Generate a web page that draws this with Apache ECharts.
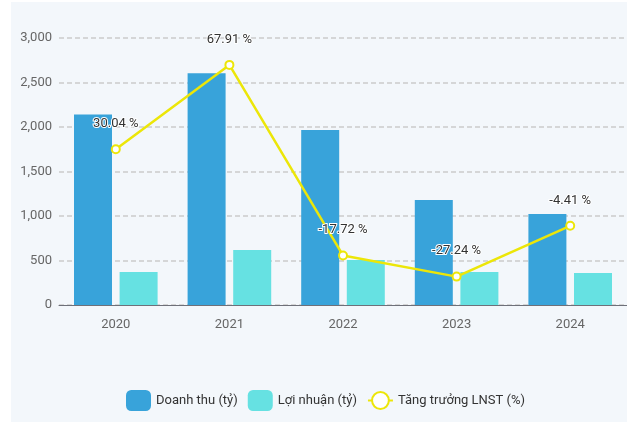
<!DOCTYPE html>
<html>
<head>
<meta charset="utf-8">
<script src="https://cdn.jsdelivr.net/npm/echarts@6/dist/echarts.min.js"></script>
<style>
  html, body { margin: 0; padding: 0; background: #fff; }
  #chart { position: absolute; left: 11px; top: 2px; width: 616px; height: 420px; }
</style>
</head>
<body>
<div id="chart"></div>
<script>
// số liệu
var years = ['2020', '2021', '2022', '2023', '2024'];
var doanhThu = [2140, 2605, 1965, 1180, 1022];
var loiNhuan = [372, 618, 506, 372, 360];
var tangTruong = [30.04, 67.91, -17.72, -27.24, -4.41];
var yTicks = [0, 500, 1000, 1500, 2000, 2500, 3000];

var FONT = 'Roboto, sans-serif';

var myChart = echarts.init(document.getElementById('chart'));

var option = {
  backgroundColor: '#f3f7fb',
  textStyle: { fontFamily: FONT },
  grid: { left: 48, top: 36, width: 570, bottom: 117, containLabel: false },
  legend: {
    bottom: 6,
    left: 110,
    itemWidth: 25,
    itemHeight: 21,
    itemGap: 10,
    textStyle: { fontFamily: FONT, fontSize: 13, color: '#333' },
    data: [
      { name: 'Doanh thu (tỷ)', icon: 'roundRect' },
      { name: 'Lợi nhuận (tỷ)', icon: 'roundRect' },
      { name: 'Tăng trưởng LNST (%)' }
    ]
  },
  xAxis: {
    type: 'category',
    data: years,
    axisLine: { lineStyle: { color: '#6e7079' } },
    axisTick: { alignWithLabel: false, length: 5 },
    axisLabel: { color: '#666', fontSize: 13, margin: 13, fontFamily: FONT }
  },
  yAxis: [
    {
      type: 'value',
      min: yTicks[0],
      max: yTicks[yTicks.length - 1],
      interval: 500,
      axisLine: { show: false },
      axisTick: { show: false },
      axisLabel: {
        color: '#666', fontSize: 13, margin: 7, fontFamily: FONT,
        formatter: function (v) { return v.toLocaleString('en-US'); }
      },
      splitLine: { lineStyle: { color: '#ccc', type: [5, 3], width: 1.5 } }
    },
    {
      type: 'value',
      min: -40,
      max: 80,
      show: false,
      splitLine: { show: false }
    }
  ],
  series: [
    {
      name: 'Doanh thu (tỷ)',
      type: 'bar',
      data: doanhThu,
      barWidth: 38,
      barGap: '20%',
      itemStyle: { color: '#38a3da' }
    },
    {
      name: 'Lợi nhuận (tỷ)',
      type: 'bar',
      data: loiNhuan,
      barWidth: 38,
      barGap: '20%',
      itemStyle: { color: '#66e1e2' }
    },
    {
      name: 'Tăng trưởng LNST (%)',
      type: 'line',
      yAxisIndex: 1,
      data: tangTruong,
      symbol: 'emptyCircle',
      symbolSize: 8,
      lineStyle: { color: '#ece608', width: 2.5 },
      itemStyle: { color: '#ece608', borderWidth: 2 },
      z: 5,
      label: {
        show: true,
        position: 'top',
        distance: 14,
        fontSize: 13,
        color: '#333',
        fontFamily: FONT,
        textBorderColor: '#fff',
        textBorderWidth: 2,
        formatter: function (p) { return p.value.toFixed(2) + ' %'; }
      }
    }
  ]
};

myChart.setOption(option);
</script>
</body>
</html>
